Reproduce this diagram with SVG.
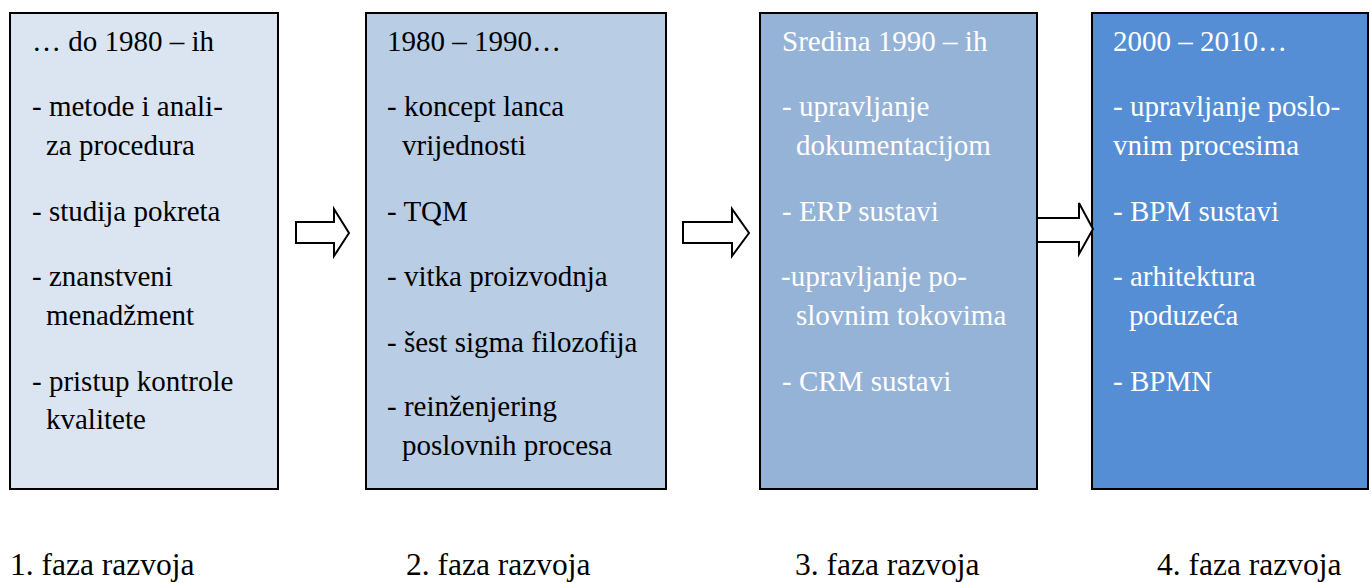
<svg xmlns="http://www.w3.org/2000/svg" width="1371" height="583" viewBox="0 0 1371 583">
<style>
.box{stroke:#000;stroke-width:2}
.arr{fill:#fff;stroke:#000;stroke-width:2;stroke-linejoin:miter}
</style>
<rect width="1371" height="583" fill="#fff"/>
<g id="phase1">
<rect class="box" x="10" y="13" width="268" height="476" fill="#DBE5F1"/>
<g font-family="Liberation Serif, Times New Roman, serif" font-size="29" fill="#000">
<text x="32" y="51">… do 1980 – ih</text>
<text x="32" y="116">- metode i anali-</text>
<text x="46" y="155">za procedura</text>
<text x="32" y="221">- studija pokreta</text>
<text x="32" y="286">- znanstveni</text>
<text x="46" y="325">menadžment</text>
<text x="32" y="391">- pristup kontrole</text>
<text x="46" y="429">kvalitete</text>
</g>
</g>
<g id="phase2">
<rect class="box" x="366" y="13" width="300" height="476" fill="#B9CDE5"/>
<g font-family="Liberation Serif, Times New Roman, serif" font-size="29" fill="#000">
<text x="387" y="51">1980 – 1990…</text>
<text x="387" y="116">- koncept lanca</text>
<text x="402" y="155">vrijednosti</text>
<text x="387" y="221">- TQM</text>
<text x="387" y="286">- vitka proizvodnja</text>
<text x="387" y="352">- šest sigma filozofija</text>
<text x="387" y="416">- reinženjering</text>
<text x="402" y="455">poslovnih procesa</text>
</g>
</g>
<g id="phase3">
<rect class="box" x="760" y="13" width="277" height="476" fill="#95B3D7"/>
<g font-family="Liberation Serif, Times New Roman, serif" font-size="29" fill="#fff">
<text x="782" y="51">Sredina 1990 – ih</text>
<text x="782" y="116">- upravljanje</text>
<text x="796" y="155">dokumentacijom</text>
<text x="782" y="221">- ERP sustavi</text>
<text x="781" y="286">-upravljanje po-</text>
<text x="796" y="325">slovnim tokovima</text>
<text x="782" y="391">- CRM sustavi</text>
</g>
</g>
<g id="phase4">
<rect class="box" x="1092" y="13" width="276" height="476" fill="#558ED5"/>
<g font-family="Liberation Serif, Times New Roman, serif" font-size="29" fill="#fff">
<text x="1113" y="51">2000 – 2010…</text>
<text x="1113" y="116">- upravljanje poslo-</text>
<text x="1113" y="155">vnim procesima</text>
<text x="1113" y="221">- BPM sustavi</text>
<text x="1113" y="286">- arhitektura</text>
<text x="1129" y="325">poduzeća</text>
<text x="1113" y="391">- BPMN</text>
</g>
</g>
<g id="connectors">
<polygon class="arr" points="296,222 334,222 334,209 349,233 334,256 334,243 296,243"/>
<polygon class="arr" points="683,222 732,222 732,209 749,233 732,256 732,243 683,243"/>
<polygon class="arr" points="1037,218 1079,218 1079,203 1093,229 1079,254 1079,242 1037,242"/>
</g>
<g id="labels" font-family="Liberation Serif, Times New Roman, serif" font-size="31.5" fill="#000">
<text x="10" y="575">1. faza razvoja</text>
<text x="406" y="575">2. faza razvoja</text>
<text x="795" y="575">3. faza razvoja</text>
<text x="1157" y="575">4. faza razvoja</text>
</g>
</svg>
